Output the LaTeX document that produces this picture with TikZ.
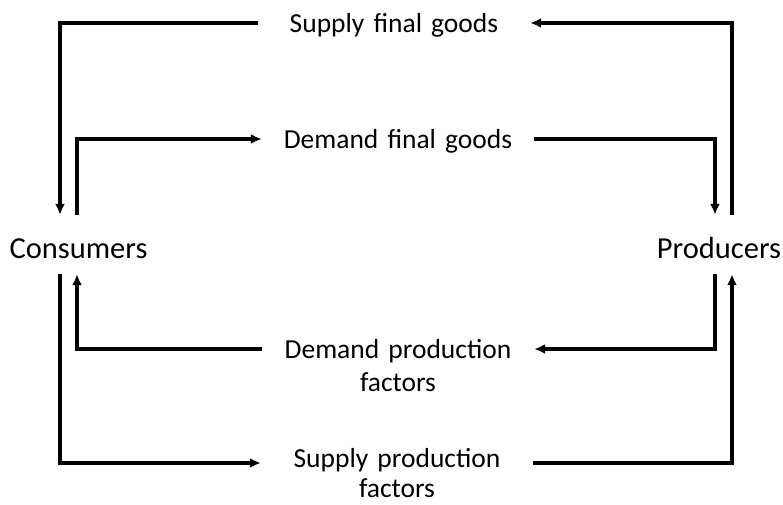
\documentclass[tikz,border=0pt]{standalone}
\usepackage{fontspec}
\setmainfont[WordSpace=0.8]{Carlito}
\usetikzlibrary{arrows.meta}
\usetikzlibrary{calc}
\usetikzlibrary{positioning}
\tikzset{
  sector/.style={
    inner sep=0, anchor=base,
    text height=43pt, text depth=16pt,
    font=\fontsize{30.5}{36}\selectfont
  },
  market/.style={
    inner sep=0, anchor=base,
    text width=272pt, align=center,
    font=\fontsize{27.5}{33}\selectfont
  },
  flow/.style={-{Latex[length=11pt,width=10pt]}, line width=3.4pt}
}

\begin{document}
\begin{tikzpicture}[x=1pt,y=-1pt]
  \useasboundingbox (0,0) rectangle (783,504);
  \node[sector] (cons) at (78.5,258) {Consumers};
  \node[sector] (prod) at (719,258) {Producers};
  \node[market] (sfg) at (394,32) {Supply final goods};
  \node[market] (dfg) at (398,148) {Demand final goods};
  \node[market] (dpf) at (398,358) {Demand production\\factors};
  \node[market, font=\fontsize{27.5}{30}\selectfont] (spf) at (397,467) {Supply production\\factors};
  % goods market
  \draw[flow] ([xshift=13pt]prod.north) |- ([yshift=9pt]sfg.base east);
  \draw[flow] ([yshift=9pt]sfg.base west) -| ([xshift=-18.5pt]cons.north);
  \draw[flow] ([xshift=-1.5pt]cons.north) |- ([yshift=9pt]dfg.base west);
  \draw[flow] ([yshift=9pt]dfg.base east) -| ([xshift=-4pt]prod.north);
  % factor market
  \draw[flow] ([xshift=-4pt]prod.south) |- ([yshift=9pt]dpf.base east);
  \draw[flow] ([yshift=9pt]dpf.base west) -| ([xshift=-1.5pt]cons.south);
  \draw[flow] ([xshift=-18.5pt]cons.south) |- ([yshift=4pt]spf.base west);
  \draw[flow] ([yshift=4pt]spf.base east) -| ([xshift=13pt]prod.south);
\end{tikzpicture}
\end{document}
